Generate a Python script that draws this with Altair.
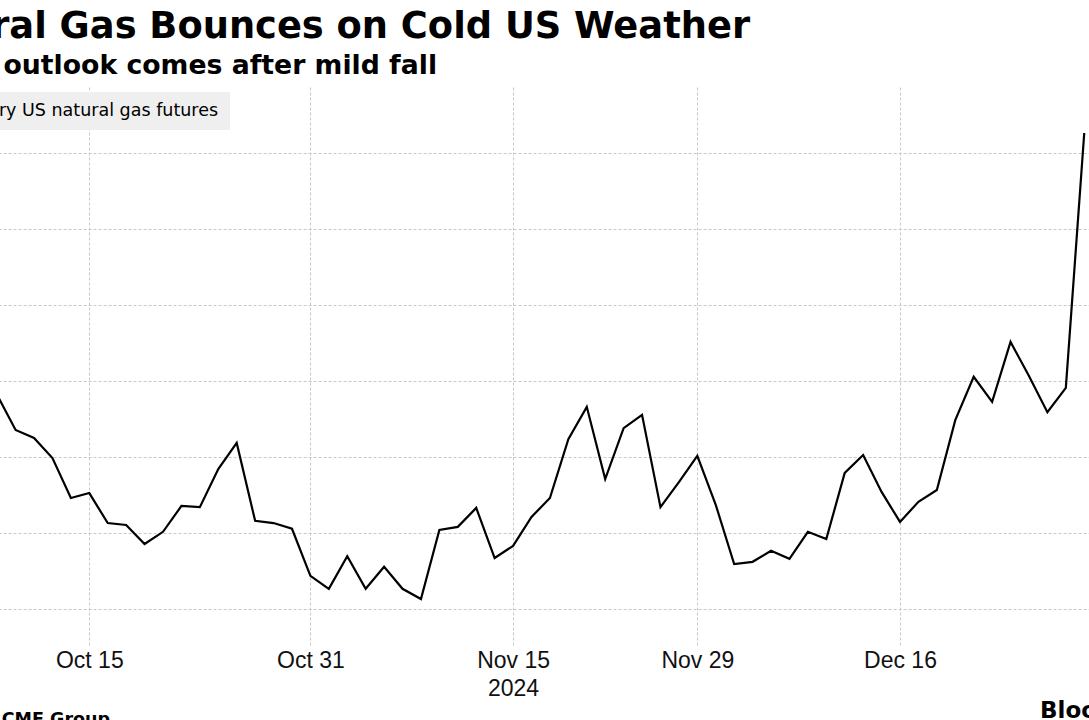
import altair as alt
import pandas as pd

# February US natural gas futures, $/MMBtu, one value per weekday
dates = pd.bdate_range("2024-10-08", "2024-12-30")
prices = [3.363, 3.271, 3.250, 3.197, 3.092, 3.105, 3.026, 3.021, 2.971, 3.003,
          3.071, 3.068, 3.168, 3.237, 3.032, 3.026, 3.011, 2.887, 2.853, 2.939,
          2.853, 2.911, 2.853, 2.826, 3.008, 3.016, 3.066, 2.934, 2.966, 3.042,
          3.092, 3.247, 3.332, 3.142, 3.276, 3.311, 3.068, 3.134, 3.203, 3.074,
          2.918, 2.924, 2.953, 2.932, 3.003, 2.984, 3.158, 3.205, 3.108, 3.029,
          3.082, 3.113, 3.297, 3.411, 3.345, 3.503, 3.413, 3.318, 3.382, 4.053]

tick_dates = ["2024-10-15", "2024-10-31", "2024-11-15", "2024-11-29", "2024-12-16"]
tick_labels = [["Oct 15"], ["Oct 31"], ["Nov 15", "2024"], ["Nov 29"], ["Dec 16"]]
y_ticks = [2.8, 3.0, 3.2, 3.4, 3.6, 3.8, 4.0]

title = "Natural Gas Bounces on Cold US Weather"
subtitle = "Colder outlook comes after mild fall"
series_name = "February US natural gas futures"
source = "Source: CME Group"
brand = "Bloomberg"

# x is a weekday counter so weekends leave no gaps
df = pd.DataFrame({"day": range(len(prices)),
                   "date": dates.strftime("%Y-%m-%d"),
                   "price": prices})
pos = {d: i for i, d in enumerate(df["date"])}
tick_pos = [pos[d] for d in tick_dates]

label_expr = "''"
for p, lab in zip(tick_pos, tick_labels):
    arr = "[" + ",".join("'%s'" % s for s in lab) + "]"
    label_expr = "datum.value == %d ? %s : (%s)" % (p, arr, label_expr)

W, H = 1216.05, 558
PAD = {"left": -94.95, "top": 87, "right": -32.1, "bottom": 75}
GRID = "#c8c8c8"

x_enc = alt.X("day:Q",
              scale=alt.Scale(domain=[-5, 61], nice=False, zero=False),
              axis=alt.Axis(values=tick_pos, labelExpr=label_expr, title=None,
                            grid=True, gridDash=[3, 2], gridColor=GRID, gridWidth=1,
                            domain=False, ticks=False, labelFont="Liberation Sans",
                            labelFontSize=23, labelColor="#111111",
                            labelBaseline="alphabetic", labelPadding=22,
                            labelLineHeight=28, labelOverlap=False, labelFlush=False))
# price gridlines; the dollar scale sits to the right of the plot
y_enc = alt.Y("price:Q",
              scale=alt.Scale(domain=[2.705, 4.174], nice=False, zero=False),
              axis=alt.Axis(orient="right", values=y_ticks, title=None, labels=False,
                            grid=True, gridDash=[3, 2], gridColor=GRID, gridWidth=1,
                            domain=False, ticks=False))

line = alt.Chart(df).mark_line(color="#000000", strokeWidth=2.2,
                               strokeJoin="miter").encode(x=x_enc, y=y_enc)


def text_layer(txt, x, y, size, bold=False, align="left", font="DejaVu Sans"):
    return alt.Chart(pd.DataFrame({"t": [txt]})).mark_text(
        align=align, baseline="alphabetic", font=font, fontSize=size,
        fontWeight="bold" if bold else "normal", color="#000000"
    ).encode(x=alt.value(x), y=alt.value(y), text="t:N")


legend_box = alt.Chart(pd.DataFrame({"t": [series_name]})).mark_rect(
    color="#efefef").encode(x=alt.value(0), x2=alt.value(325),
                            y=alt.value(5), y2=alt.value(43))

chart = alt.layer(
    line,
    legend_box,
    text_layer(series_name, 313, 29, 17.5, align="right"),
    text_layer(title, 845, -49.5, 36.8, bold=True, align="right"),
    text_layer(subtitle, 532, -13, 26.7, bold=True, align="right"),
    text_layer(source, 205, 637.5, 17.5, bold=True, align="right"),
    text_layer(brand, 1135, 631, 23, bold=True),
).properties(
    width=W, height=H, padding=PAD, autosize="none", background="#ffffff"
).configure_view(stroke=None)

chart.save("out.html", embed_options={"renderer": "svg", "actions": False})
